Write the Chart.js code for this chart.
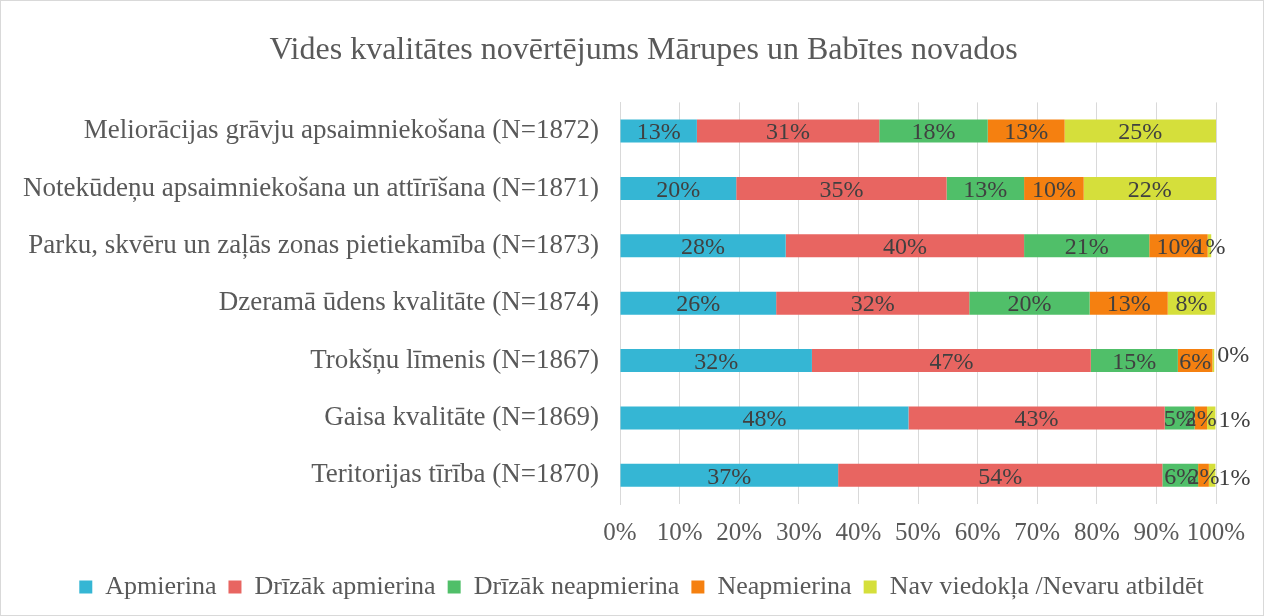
<!DOCTYPE html>
<html>
<head>
<meta charset="utf-8">
<script src="https://cdn.jsdelivr.net/npm/chart.js@4"></script>
<style>
  html, body { margin: 0; padding: 0; background: #fff; }
  #wrap { width: 1262px; height: 614px; border: 1px solid #d9d9d9; }
</style>
</head>
<body>
<div id="wrap"><canvas id="chart" width="1262" height="614"></canvas></div>
<script>
// categories, top to bottom
const categories = [
    'Meliorācijas grāvju apsaimniekošana (N=1872)',
    'Notekūdeņu apsaimniekošana un attīrīšana (N=1871)',
    'Parku, skvēru un zaļās zonas pietiekamība (N=1873)',
    'Dzeramā ūdens kvalitāte (N=1874)',
    'Trokšņu līmenis (N=1867)',
    'Gaisa kvalitāte (N=1869)',
    'Teritorijas tīrība (N=1870)'
];

const seriesNames = ['Apmierina', 'Drīzāk apmierina', 'Drīzāk neapmierina', 'Neapmierina', 'Nav viedokļa /Nevaru atbildēt'];

// shares in percent
const apmierina = [12.9, 19.5, 27.8, 26.2, 32.2, 48.4, 36.6];
const drizakApmierina = [30.6, 35.3, 40.0, 32.4, 46.8, 43.0, 54.4];
const drizakNeapmierina = [18.2, 13.0, 21.0, 20.2, 14.6, 5.0, 6.0];
const neapmierina = [12.9, 10.0, 9.8, 13.1, 5.8, 2.1, 1.8];
const navViedokla = [25.4, 22.2, 0.6, 8.0, 0.3, 1.4, 1.1];

const xTicks = [0, 10, 20, 30, 40, 50, 60, 70, 80, 90, 100];

const colors = ['#35b6d4', '#e86561', '#50bf69', '#f58010', '#d5df3b'];
const allSeries = [apmierina, drizakApmierina, drizakNeapmierina, neapmierina, navViedokla];

const serif = "'Liberation Serif', 'Times New Roman', serif";

// draws the percentage labels in the middle of each segment
const segmentLabels = {
    id: 'segmentLabels',
    afterDatasetsDraw(chart) {
        const ctx = chart.ctx;
        ctx.save();
        ctx.font = '24px ' + serif;
        ctx.fillStyle = '#404040';
        ctx.textBaseline = 'middle';
        chart.data.datasets.forEach((ds, di) => {
            const meta = chart.getDatasetMeta(di);
            meta.data.forEach((bar, i) => {
                const v = ds.data[i];
                const text = Math.round(v) + '%';
                const left = Math.min(bar.x, bar.base);
                const right = Math.max(bar.x, bar.base);
                const last = di === chart.data.datasets.length - 1;
                const end = allSeries.slice(0, di + 1).reduce((s, a) => s + a[i], 0);
                if (last && v < 2 && end >= 99.5) {
                    // tiny end segments: label sits just past the bar
                    ctx.textAlign = 'left';
                    const dy = v < 0.5 ? -5 : 3;
                    ctx.fillText(text, right + 3, bar.y + dy);
                } else {
                    ctx.textAlign = 'center';
                    ctx.fillText(text, (left + right) / 2, bar.y + 2);
                }
            });
        });
        ctx.restore();
    }
};

// title and legend sit centred on the whole picture, not on the plot box
const shiftBlocks = {
    id: 'shiftBlocks',
    afterLayout(chart) {
        const t = chart.titleBlock;
        t.left += 30; t.right += 30;
        const l = chart.legend;
        l.left += 28; l.right += 28;
    }
};

new Chart(document.getElementById('chart'), {
    type: 'bar',
    data: {
        labels: categories,
        datasets: seriesNames.map((name, k) => ({
            label: name,
            data: allSeries[k],
            backgroundColor: colors[k],
            borderWidth: 0,
            barPercentage: 0.4,
            categoryPercentage: 1
        }))
    },
    options: {
        indexAxis: 'y',
        responsive: false,
        animation: false,
        layout: { padding: { left: 10, right: 47, top: 14, bottom: 5 } },
        plugins: {
            title: {
                display: true,
                text: 'Vides kvalitātes novērtējums Mārupes un Babītes novados',
                color: '#595959',
                font: { family: serif, size: 32, weight: 'normal' },
                padding: { top: 16, bottom: 33 }
            },
            legend: {
                position: 'bottom',
                labels: {
                    color: '#595959',
                    font: { family: serif, size: 26 },
                    boxWidth: 13,
                    boxHeight: 13,
                    padding: 12
                }
            },
            tooltip: { enabled: false }
        },
        scales: {
            x: {
                stacked: true,
                min: 0,
                max: 100,
                afterBuildTicks: (scale) => { scale.ticks = xTicks.map(v => ({ value: v })); },
                ticks: {
                    color: '#595959',
                    font: { family: serif, size: 25 },
                    callback: (v) => v + '%',
                    padding: 14,
                    maxRotation: 0,
                    minRotation: 0,
                    autoSkip: false
                },
                grid: { color: '#d9d9d9', drawTicks: false },
                border: { display: false }
            },
            y: {
                stacked: true,
                afterFit: (scale) => { scale.width = 609; },
                ticks: {
                    color: '#595959',
                    font: { family: serif, size: 27 },
                    padding: 21
                },
                grid: { display: false, drawTicks: false },
                border: { display: true, color: '#d9d9d9' }
            }
        }
    },
    plugins: [segmentLabels, shiftBlocks]
});
</script>
</body>
</html>
